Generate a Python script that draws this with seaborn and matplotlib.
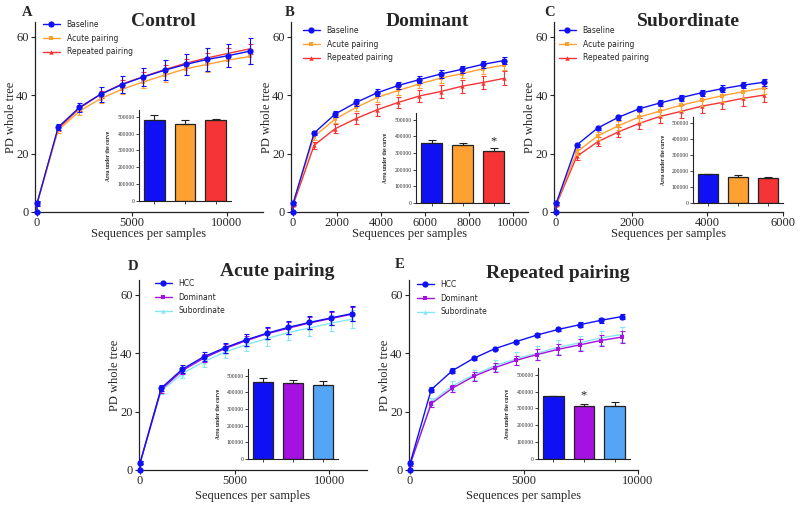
import numpy as np
import matplotlib
matplotlib.use('Agg')
import matplotlib.pyplot as plt
import seaborn as sns

sns.set_style('ticks')
plt.rcParams['font.family'] = ['Liberation Serif', 'DejaVu Serif']

W, H = 800, 507

BLUE = '#1010f5'
ORANGE = '#ffa033'
RED = '#f53535'
PURPLE = '#a511e0'
CYAN = '#86e6f2'
LBLUE = '#55a5f7'

# ---- rarefaction data (mean, sem) ----
A_x = [0, 10, 1120, 2240, 3360, 4480, 5600, 6720, 7840, 8960, 10080, 11200]
A_base = [0, 3, 29, 35.8, 40.3, 43.6, 46.2, 48.5, 50.5, 52.2, 53.5, 55.0]
A_base_err = [0, 0.8, 1, 1.6, 2.5, 2.8, 3.2, 3.4, 3.6, 3.8, 4, 4.5]
A_acute = [0, 3, 28, 34.5, 38.8, 42.0, 44.5, 46.8, 49.0, 50.5, 52.0, 53.2]
A_acute_err = [0, 0.8, 1, 1.2, 1.5, 1.7, 2, 2.2, 2.3, 2.5, 2.5, 2.7]
A_rep = [0, 3, 28.5, 35.5, 40.3, 43.8, 46.3, 48.7, 50.9, 52.7, 54.3, 55.8]
A_rep_err = [0, 0.5, 0.8, 1, 1.2, 1.3, 1.5, 1.5, 1.6, 1.7, 1.8, 1.8]

B_x = [0, 10, 960, 1920, 2880, 3840, 4800, 5760, 6720, 7680, 8640, 9600]
B_base = [0, 3, 27, 33.5, 37.5, 40.8, 43.3, 45.3, 47.2, 48.8, 50.5, 51.8]
B_base_err = [0, 0.5, 0.8, 1, 1.2, 1.2, 1.2, 1.3, 1.3, 1.3, 1.3, 1.3]
B_acute = [0, 3, 25.8, 31.8, 35.8, 39.2, 41.6, 43.8, 45.8, 47.3, 49.0, 50.2]
B_acute_err = [0, 0.5, 1, 1.2, 1.3, 1.4, 1.5, 1.5, 1.6, 1.6, 1.7, 1.7]
B_rep = [0, 2.5, 22.8, 28.5, 32.0, 35.0, 37.5, 39.7, 41.2, 43.0, 44.3, 45.7]
B_rep_err = [0, 0.5, 1.2, 1.5, 1.8, 2, 2, 2.2, 2.3, 2.3, 2.3, 2.4]

C_x = [0, 10, 550, 1100, 1650, 2200, 2750, 3300, 3850, 4400, 4950, 5500]
C_base = [0, 3, 22.9, 28.7, 32.4, 35.3, 37.3, 39.1, 40.8, 42.2, 43.4, 44.4]
C_base_err = [0, 0.5, 0.5, 0.7, 0.8, 0.9, 1, 1, 1, 1.1, 1.1, 1.2]
C_acute = [0, 3, 20.5, 26.0, 29.5, 32.5, 34.5, 36.5, 38.2, 39.8, 41.2, 42.4]
C_acute_err = [0, 0.5, 1, 1.3, 1.5, 1.7, 1.8, 1.9, 2, 2, 2.1, 2.2]
C_rep = [0, 2.5, 19.0, 24.0, 27.4, 30.3, 32.7, 34.4, 36.2, 37.5, 38.9, 40.0]
C_rep_err = [0, 0.5, 1.2, 1.5, 1.8, 2, 2.1, 2.2, 2.3, 2.4, 2.5, 2.5]

D_x = [0, 10, 1120, 2240, 3360, 4480, 5600, 6720, 7840, 8960, 10080, 11200]
D_hcc = [0, 2.5, 28.0, 34.5, 38.7, 41.8, 44.5, 46.8, 48.8, 50.5, 52.0, 53.5]
D_hcc_err = [0, 0.5, 1, 1.3, 1.5, 1.8, 2, 2, 2.3, 2.3, 2.5, 2.5]
D_dom = [0, 2.5, 27.5, 34.0, 38.2, 41.5, 44.2, 46.6, 48.5, 50.3, 51.8, 53.3]
D_dom_err = [0, 0.5, 1, 1.2, 1.4, 1.6, 1.8, 1.9, 2, 2.1, 2.2, 2.3]
D_sub = [0, 2.3, 27.0, 33.0, 37.0, 40.3, 42.8, 45.0, 47.0, 48.6, 50.2, 51.6]
D_sub_err = [0, 0.5, 1, 1.5, 1.8, 2, 2.2, 2.5, 2.6, 2.7, 2.8, 3]

E_x = [0, 10, 930, 1860, 2790, 3720, 4650, 5580, 6510, 7440, 8370, 9300]
E_hcc = [0, 2.5, 27.5, 34.0, 38.2, 41.5, 43.9, 46.2, 48.1, 49.7, 51.2, 52.5]
E_hcc_err = [0, 0.5, 0.8, 0.8, 0.6, 0.5, 0.6, 0.6, 0.6, 0.8, 0.8, 0.9]
E_dom = [0, 2, 22.7, 28.0, 32.0, 35.0, 37.5, 39.5, 41.3, 42.8, 44.3, 45.5]
E_dom_err = [0, 0.5, 1, 1.2, 1.4, 1.5, 1.6, 1.8, 1.9, 2, 2, 2]
E_sub = [0, 2, 23.3, 28.8, 32.5, 35.7, 38.0, 40.0, 42.0, 43.5, 45.2, 46.4]
E_sub_err = [0, 0.5, 1.2, 1.5, 1.8, 2, 2.2, 2.3, 2.4, 2.5, 2.5, 2.5]

# ---- area under the curve (insets) ----
AUC_A = [478000, 458000, 482000]
AUC_A_err = [32000, 22000, 4000]
AUC_B = [362000, 350000, 314000]
AUC_B_err = [14000, 12000, 16000]
AUC_C = [181000, 166000, 156000]
AUC_C_err = [2000, 11000, 10000]
AUC_D = [465000, 459000, 445000]
AUC_D_err = [21000, 17000, 26000]
AUC_E = [371000, 313000, 317000]
AUC_E_err = [3000, 16000, 24000]

TIME_GROUPS = ['Baseline', 'Acute pairing', 'Repeated pairing']
RANK_GROUPS = ['HCC', 'Dominant', 'Subordinate']
TIME_COLORS = [BLUE, ORANGE, RED]
RANK_COLORS = [BLUE, PURPLE, CYAN]
RANK_BAR_COLORS = [BLUE, PURPLE, LBLUE]
MARKERS = ['o', 's', '^']

fig = plt.figure(figsize=(W / 100, H / 100), dpi=100)


def px_axes(left, right, top, bottom):
    return fig.add_axes([left / W, 1 - bottom / H, (right - left) / W, (bottom - top) / H])


def draw_curves(rect, x, series, names, colors, xlim, xticks, leg_xy, title, title_xy,
                letter, letter_xy, xlab_gap):
    ax = px_axes(*rect)
    order = [2, 1, 0]
    for i in order:
        y, err = series[i]
        z = 5 - i
        ax.errorbar(x, y, yerr=err, fmt='none', ecolor=colors[i], elinewidth=0.8,
                    capsize=1.8, capthick=0.8, zorder=z, clip_on=False)
        sns.lineplot(x=x, y=y, ax=ax, color=colors[i], marker=MARKERS[i],
                     markersize=4.5 if i == 0 else 3.2, markeredgewidth=0,
                     linewidth=1.0, label=names[i], zorder=z + 0.5, clip_on=False)
    ax.set_xlim(*xlim)
    ax.set_ylim(0, 65)
    ax.set_xticks(xticks)
    ax.set_yticks([0, 20, 40, 60])
    ax.tick_params(labelsize=9, length=3, width=0.8, pad=1.5)
    ax.tick_params(axis='x', pad=0.5)
    for s in ['top', 'right']:
        ax.spines[s].set_visible(False)
    for s in ['left', 'bottom']:
        ax.spines[s].set_linewidth(0.9)
        ax.spines[s].set_color('#222222')
    ax.set_ylabel('PD whole tree', fontsize=9)
    ax.set_xlabel('Sequences per samples', fontsize=9)
    ax.yaxis.set_label_coords(-18 / (rect[1] - rect[0]), 0.5)
    ax.xaxis.set_label_coords(0.5, -xlab_gap / (rect[3] - rect[2]))
    handles, labels = ax.get_legend_handles_labels()
    hl = dict(zip(labels, handles))
    ax.legend([hl[n] for n in names], names, loc='upper left',
              bbox_to_anchor=(leg_xy[0] / W, 1 - leg_xy[1] / H),
              bbox_transform=fig.transFigure, frameon=False, borderpad=0,
              borderaxespad=0, handlelength=2.2, handletextpad=0.9,
              labelspacing=0.62, prop={'family': 'DejaVu Sans', 'size': 5.5})
    fig.text(title_xy[0] / W, 1 - title_xy[1] / H, title, ha='center', va='center',
             fontsize=14, fontweight='bold')
    fig.text(letter_xy[0] / W, 1 - letter_xy[1] / H, letter, ha='center', va='center',
             fontsize=10.5, fontweight='bold')
    return ax


def draw_inset(rect, vals, errs, names, colors, star=None):
    ax = px_axes(*rect)
    sns.barplot(x=names, y=vals, hue=names, palette=colors, legend=False, ax=ax,
                width=0.68, edgecolor='#222222', linewidth=0.9, saturation=1)
    ax.errorbar(range(3), vals, yerr=[np.zeros(3), errs], fmt='none', ecolor='#222222',
                elinewidth=0.8, capsize=3, capthick=0.8)
    ax.set_xlim(-0.5, 2.5)
    ax.set_ylim(0, 540000)
    ax.set_yticks([0, 100000, 200000, 300000, 400000, 500000])
    ax.set_yticklabels(['0', '100000', '200000', '300000', '400000', '500000'])
    ax.set_xticks([0, 1, 2])
    ax.set_xticklabels([])
    ax.set_xlabel('')
    ax.tick_params(axis='y', labelsize=4, length=2, width=0.6, pad=1)
    ax.tick_params(axis='x', length=2, width=0.6)
    for s in ['top', 'right']:
        ax.spines[s].set_visible(False)
    for s in ['left', 'bottom']:
        ax.spines[s].set_linewidth(0.8)
        ax.spines[s].set_color('#222222')
    ax.set_ylabel('Area under the curve', fontsize=4, fontweight='bold')
    ax.yaxis.set_label_coords(-0.3, 0.5)
    ax.patch.set_alpha(0)
    if star is not None:
        ax.text(star[0], star[1], '*', ha='center', va='center', fontsize=9)
    return ax


draw_curves((35, 263, 22, 212), A_x,
            [(A_base, A_base_err), (A_acute, A_acute_err), (A_rep, A_rep_err)],
            TIME_GROUPS, TIME_COLORS, (-100, 11900), [0, 5000, 10000],
            (43, 20), 'Control', (163, 22), 'A', (27, 12), 16)
draw_curves((291, 528, 22, 212), B_x,
            [(B_base, B_base_err), (B_acute, B_acute_err), (B_rep, B_rep_err)],
            TIME_GROUPS, TIME_COLORS, (-90, 10700), [0, 2000, 4000, 6000, 8000, 10000],
            (303, 26), 'Dominant', (427, 22), 'B', (290, 12), 16)
draw_curves((554, 783, 22, 212), C_x,
            [(C_base, C_base_err), (C_acute, C_acute_err), (C_rep, C_rep_err)],
            TIME_GROUPS, TIME_COLORS, (-50, 6000), [0, 2000, 4000, 6000],
            (559, 26), 'Subordinate', (688, 22), 'C', (550, 12), 16)
draw_curves((139, 367, 280, 470), D_x,
            [(D_hcc, D_hcc_err), (D_dom, D_dom_err), (D_sub, D_sub_err)],
            RANK_GROUPS, RANK_COLORS, (-50, 12000), [0, 5000, 10000],
            (155, 279), 'Acute pairing', (277, 272), 'D', (133, 267), 20)
draw_curves((409, 638, 280, 470), E_x,
            [(E_hcc, E_hcc_err), (E_dom, E_dom_err), (E_sub, E_sub_err)],
            RANK_GROUPS, RANK_COLORS, (-45, 10000), [0, 5000, 10000],
            (417, 280), 'Repeated pairing', (558, 273), 'E', (400, 265), 20)

draw_inset((139, 231, 110, 201), AUC_A, AUC_A_err, TIME_GROUPS, TIME_COLORS)
draw_inset((416, 509, 113, 203), AUC_B, AUC_B_err, TIME_GROUPS, TIME_COLORS,
           star=(2, 372000))
draw_inset((693, 783, 117, 203), AUC_C, AUC_C_err, TIME_GROUPS, TIME_COLORS)
draw_inset((248, 338, 369, 459), AUC_D, AUC_D_err, RANK_GROUPS, RANK_BAR_COLORS)
draw_inset((538, 630, 368, 459), AUC_E, AUC_E_err, RANK_GROUPS, RANK_BAR_COLORS,
           star=(1, 378000))

fig.savefig('out.png', dpi=100, facecolor='white')
